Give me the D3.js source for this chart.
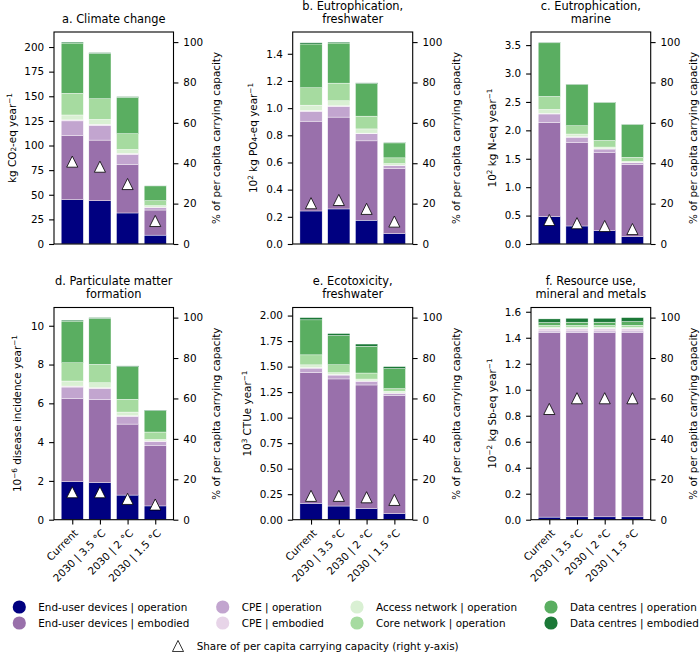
<!DOCTYPE html>
<html>
<head>
<meta charset="utf-8">
<script src="https://cdn.jsdelivr.net/npm/d3@7"></script>
<style>
  body { margin: 0; background: #fff; }
  svg { display: block; font-family: "DejaVu Sans", sans-serif; }
</style>
</head>
<body>
<script>
// ---------------- DATA ----------------
const categories = ["Current", "2030 | 3.5 °C", "2030 | 2 °C", "2030 | 1.5 °C"];
const components = [
  "End-user devices | operation", "End-user devices | embodied",
  "CPE | operation", "CPE | embodied",
  "Access network | operation", "Core network | operation",
  "Data centres | operation", "Data centres | embodied"
];
const componentColors = ["#000080", "#9970ab", "#c2a5cf", "#e7d4e8", "#d9f0d3", "#a6dba0", "#5aae61", "#1b7837"];
const shareLegend = "Share of per capita carrying capacity (right y-axis)";
const rightAxisLabel = "% of per capita carrying capacity";
const rightTicks = [0, 20, 40, 60, 80, 100];

// rows = components (order above), columns = scenarios (order of categories)
const climateValues = [
  [45, 44, 31.5, 9],
  [65, 61.5, 49.5, 25.5],
  [15, 15, 10, 2.5],
  [1, 1, 1, 0.5],
  [5, 5, 4, 1.5],
  [22, 21, 16, 5],
  [51, 46, 37, 15],
  [1, 0.8, 0.6, 0.3]
];
const climateShare = [40.8, 38.3, 29.7, 11.4];
const climateTicks = [0, 25, 50, 75, 100, 125, 150, 175, 200];

const eutroFreshValues = [
  [0.243, 0.258, 0.175, 0.076],
  [0.661, 0.676, 0.584, 0.479],
  [0.073, 0.078, 0.052, 0.022],
  [0.005, 0.005, 0.005, 0.003],
  [0.040, 0.037, 0.031, 0.012],
  [0.128, 0.130, 0.094, 0.042],
  [0.322, 0.295, 0.240, 0.110],
  [0.009, 0.007, 0.005, 0.005]
];
const eutroFreshShare = [20.2, 21.8, 17.4, 11.1];
const eutroFreshTicks = [0, 0.2, 0.4, 0.6, 0.8, 1.0, 1.2, 1.4];

const eutroMarineValues = [
  [0.48, 0.317, 0.234, 0.128],
  [1.66, 1.465, 1.372, 1.267],
  [0.148, 0.097, 0.065, 0.037],
  [0.010, 0.008, 0.005, 0.005],
  [0.070, 0.048, 0.030, 0.017],
  [0.229, 0.146, 0.117, 0.071],
  [0.943, 0.727, 0.669, 0.580],
  [0.013, 0.007, 0.005, 0.005]
];
const eutroMarineShare = [11.9, 10.3, 8.9, 7.4];
const eutroMarineTicks = [0, 0.5, 1.0, 1.5, 2.0, 2.5, 3.0, 3.5];

const particulateValues = [
  [1.96, 1.91, 1.27, 0.71],
  [4.28, 4.28, 3.66, 3.10],
  [0.60, 0.56, 0.40, 0.22],
  [0.05, 0.05, 0.03, 0.03],
  [0.26, 0.26, 0.19, 0.08],
  [0.94, 0.95, 0.66, 0.38],
  [2.15, 2.37, 1.68, 1.10],
  [0.05, 0.04, 0.04, 0.03]
];
const particulateShare = [13.6, 13.6, 10.3, 7.5];
const particulateTicks = [0, 2, 4, 6, 8, 10];

const ecotoxValues = [
  [0.160, 0.134, 0.108, 0.059],
  [1.281, 1.245, 1.212, 1.157],
  [0.044, 0.038, 0.036, 0.022],
  [0.005, 0.005, 0.004, 0.004],
  [0.027, 0.018, 0.018, 0.016],
  [0.098, 0.078, 0.059, 0.026],
  [0.343, 0.286, 0.262, 0.196],
  [0.022, 0.020, 0.022, 0.020]
];
const ecotoxShare = [11.8, 11.8, 11.1, 9.8];
const ecotoxTicks = [0, 0.25, 0.5, 0.75, 1.0, 1.25, 1.5, 1.75, 2.0];

const resourceValues = [
  [0.020, 0.022, 0.022, 0.022],
  [1.420, 1.418, 1.418, 1.418],
  [0.012, 0.012, 0.012, 0.012],
  [0.020, 0.020, 0.020, 0.020],
  [0.008, 0.008, 0.008, 0.008],
  [0.015, 0.015, 0.015, 0.016],
  [0.022, 0.025, 0.025, 0.028],
  [0.028, 0.030, 0.030, 0.031]
];
const resourceShare = [54.8, 60.1, 60.1, 60.1];
const resourceTicks = [0, 0.2, 0.4, 0.6, 0.8, 1.0, 1.2, 1.4, 1.6];

// ---------------- LAYOUT ----------------
const W = 700, H = 652;
const FS = 10.4, TFS = 11.4;
const TICK = 4.9, PAD = 4.9;
const cols = [[54, 173.5], [292.7, 412.7], [531, 650.7]];
const rows = [[32, 244], [307.5, 519.7]];

const panels = [
  { title: ["a. Climate change"], values: climateValues, share: climateShare, ticks: climateTicks, fmt: d3.format("d"),
    ylab: [["kg CO", 0], ["2", -1], ["-eq year", 0], ["−1", 1]], col: 0, row: 0, ylx: 11.5, yrx: 216 },
  { title: ["b. Eutrophication,", "freshwater"], values: eutroFreshValues, share: eutroFreshShare, ticks: eutroFreshTicks, fmt: d3.format(".1f"),
    ylab: [["10", 0], ["2", 1], [" kg PO", 0], ["4", -1], ["-eq year", 0], ["−1", 1]], col: 1, row: 0, ylx: 253, yrx: 455.5 },
  { title: ["c. Eutrophication,", "marine"], values: eutroMarineValues, share: eutroMarineShare, ticks: eutroMarineTicks, fmt: d3.format(".1f"),
    ylab: [["10", 0], ["2", 1], [" kg N-eq year", 0], ["−1", 1]], col: 2, row: 0, ylx: 491.5, yrx: 693 },
  { title: ["d. Particulate matter", "formation"], values: particulateValues, share: particulateShare, ticks: particulateTicks, fmt: d3.format("d"),
    ylab: [["10", 0], ["−6", 1], [" disease incidence year", 0], ["−1", 1]], col: 0, row: 1, ylx: 17, yrx: 216 },
  { title: ["e. Ecotoxicity,", "freshwater"], values: ecotoxValues, share: ecotoxShare, ticks: ecotoxTicks, fmt: d3.format(".2f"),
    ylab: [["10", 0], ["3", 1], [" CTUe year", 0], ["−1", 1]], col: 1, row: 1, ylx: 247, yrx: 455.5 },
  { title: ["f. Resource use,", "mineral and metals"], values: resourceValues, share: resourceShare, ticks: resourceTicks, fmt: d3.format(".1f"),
    ylab: [["10", 0], ["−2", 1], [" kg Sb-eq year", 0], ["−1", 1]], col: 2, row: 1, ylx: 491.5, yrx: 693 }
];

const svg = d3.select("body").append("svg").attr("width", W).attr("height", H);

const triPath = "M0,-5.55L5.55,5.55L-5.55,5.55Z";

panels.forEach(p => {
  const [x0, x1] = cols[p.col];
  const [y0, y1] = rows[p.row];
  const g = svg.append("g");

  const data = categories.map((c, j) => {
    const o = { cat: c, idx: j };
    components.forEach((k, i) => { o[k] = p.values[i][j]; });
    return o;
  });
  const series = d3.stack().keys(components)(data);
  const total = d3.max(data, d => d3.sum(components, k => d[k]));

  const x = d3.scaleLinear().domain([-0.66, 3.66]).range([x0, x1]);
  const y = d3.scaleLinear().domain([0, total * 1.05]).range([y1, y0]);
  const yR = d3.scaleLinear().domain([0, 105]).range([y1, y0]);
  const bw = x(0.8) - x(0);

  // bars
  series.forEach((s, i) => {
    g.append("g").selectAll("rect").data(s).join("rect")
      .attr("x", d => x(d.data.idx) - bw / 2)
      .attr("width", bw)
      .attr("y", d => y(d[1]))
      .attr("height", d => Math.max(0, y(d[0]) - y(d[1])))
      .attr("fill", componentColors[i])
      .attr("stroke", "#fff")
      .attr("stroke-width", 0.4);
  });

  // share triangles
  g.append("g").selectAll("path").data(p.share).join("path")
    .attr("d", triPath)
    .attr("transform", (d, j) => `translate(${x(j)},${yR(d)})`)
    .attr("fill", "#fff").attr("stroke", "#000").attr("stroke-width", 0.8);

  // left axis
  const ax = g.append("g").attr("transform", `translate(${x0},0)`)
    .call(d3.axisLeft(y).tickValues(p.ticks).tickFormat(p.fmt).tickSize(TICK).tickPadding(PAD));
  // right axis
  const axR = g.append("g").attr("transform", `translate(${x1},0)`)
    .call(d3.axisRight(yR).tickValues(rightTicks).tickFormat(d3.format("d")).tickSize(TICK).tickPadding(PAD));
  [ax, axR].forEach(a => {
    a.select(".domain").remove();
    a.selectAll("line").attr("stroke", "#000").attr("stroke-width", 1.1);
    a.selectAll("text").attr("font-size", FS).attr("fill", "#000").attr("font-family", "DejaVu Sans");
  });

  // bottom ticks with labels on bottom row
  if (p.row === 1) {
    const axB = g.append("g").attr("transform", `translate(0,${y1})`)
      .call(d3.axisBottom(x).tickValues([0, 1, 2, 3]).tickSize(TICK).tickFormat(""));
    axB.select(".domain").remove();
    axB.selectAll("line").attr("stroke", "#000").attr("stroke-width", 1.1);
    g.append("g").selectAll("text").data(categories).join("text")
      .attr("transform", (d, j) => `translate(${x(j) + 1},${y1 + TICK + PAD - 1}) rotate(-45)`)
      .attr("text-anchor", "end")
      .attr("dy", "0.72em")
      .attr("font-size", FS)
      .text(d => d);
  }

  // frame
  g.append("rect").attr("x", x0).attr("y", y0).attr("width", x1 - x0).attr("height", y1 - y0)
    .attr("fill", "none").attr("stroke", "#000").attr("stroke-width", 1.1);

  // title
  const cx = (x0 + x1) / 2;
  const nl = p.title.length;
  p.title.forEach((t, i) => {
    g.append("text").attr("x", cx).attr("y", y0 - 9.5 - (nl - 1 - i) * 12.6)
      .attr("text-anchor", "middle").attr("font-size", TFS).text(t);
  });

  // left y label
  const cy = (y0 + y1) / 2;
  const yl = g.append("text")
    .attr("transform", `translate(${p.ylx},${cy}) rotate(-90)`)
    .attr("text-anchor", "middle").attr("dominant-baseline", "central")
    .attr("font-size", FS);
  p.ylab.forEach(([t, s]) => {
    const ts = yl.append("tspan").text(t);
    if (s !== 0) {
      ts.attr("font-size", FS * 0.7).attr("baseline-shift", s > 0 ? "40%" : "-20%");
    }
  });

  // right y label
  g.append("text")
    .attr("transform", `translate(${p.yrx},${cy}) rotate(-90)`)
    .attr("text-anchor", "middle").attr("dominant-baseline", "central")
    .attr("font-size", FS).text(rightAxisLabel);
});

// ---------------- LEGEND ----------------
const legCols = [19.3, 222.7, 357, 551];
const legRows = [607, 623];
const leg = svg.append("g");
components.forEach((k, i) => {
  const cxp = legCols[Math.floor(i / 2)];
  const cyp = legRows[i % 2];
  leg.append("circle").attr("cx", cxp).attr("cy", cyp).attr("r", 6.6).attr("fill", componentColors[i]);
  leg.append("text").attr("x", cxp + 19).attr("y", cyp).attr("dominant-baseline", "central")
    .attr("font-size", FS).text(k);
});
leg.append("path").attr("d", triPath).attr("transform", "translate(178,646)")
  .attr("fill", "#fff").attr("stroke", "#000").attr("stroke-width", 0.8);
leg.append("text").attr("x", 196.7).attr("y", 646).attr("dominant-baseline", "central")
  .attr("font-size", FS).text(shareLegend);
</script>
</body>
</html>
